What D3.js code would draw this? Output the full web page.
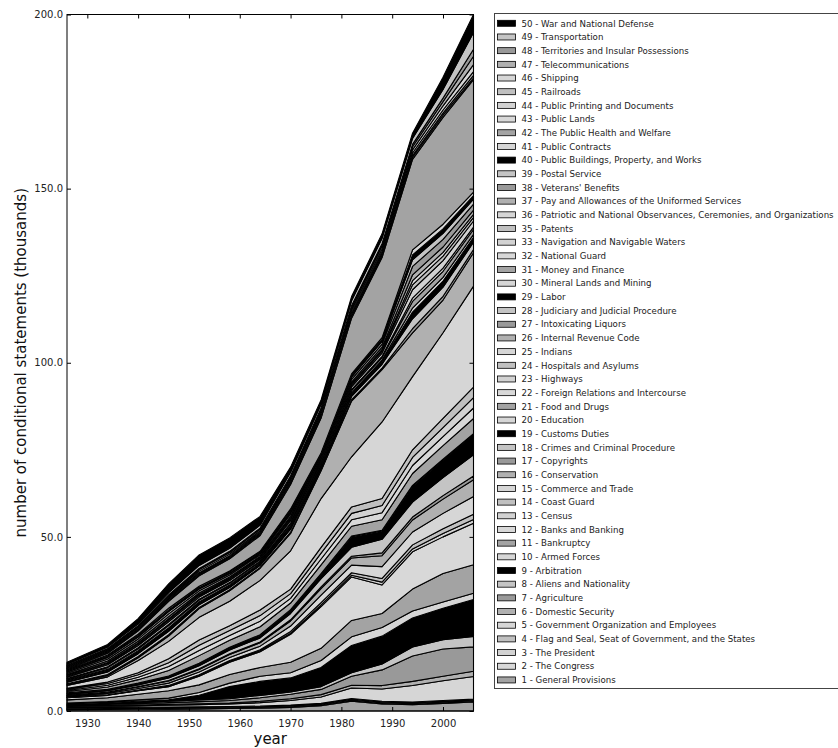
<!DOCTYPE html>
<html><head><meta charset="utf-8">
<script src="https://cdn.jsdelivr.net/npm/d3@7"></script>
<style>body{margin:0;background:#fff} text{font-family:"DejaVu Sans",sans-serif}</style>
</head><body><svg id="c" width="838" height="748"></svg>
<script>
const years = [1926,1934,1940,1946,1952,1958,1964,1970,1976,1982,1988,1994,2000,2006];
const titles = ["1 - General Provisions","2 - The Congress","3 - The President","4 - Flag and Seal, Seat of Government, and the States","5 - Government Organization and Employees","6 - Domestic Security","7 - Agriculture","8 - Aliens and Nationality","9 - Arbitration","10 - Armed Forces","11 - Bankruptcy","12 - Banks and Banking","13 - Census","14 - Coast Guard","15 - Commerce and Trade","16 - Conservation","17 - Copyrights","18 - Crimes and Criminal Procedure","19 - Customs Duties","20 - Education","21 - Food and Drugs","22 - Foreign Relations and Intercourse","23 - Highways","24 - Hospitals and Asylums","25 - Indians","26 - Internal Revenue Code","27 - Intoxicating Liquors","28 - Judiciary and Judicial Procedure","29 - Labor","30 - Mineral Lands and Mining","31 - Money and Finance","32 - National Guard","33 - Navigation and Navigable Waters","35 - Patents","36 - Patriotic and National Observances, Ceremonies, and Organizations","37 - Pay and Allowances of the Uniformed Services","38 - Veterans' Benefits","39 - Postal Service","40 - Public Buildings, Property, and Works","41 - Public Contracts","42 - The Public Health and Welfare","43 - Public Lands","44 - Public Printing and Documents","45 - Railroads","46 - Shipping","47 - Telecommunications","48 - Territories and Insular Possessions","49 - Transportation","50 - War and National Defense"];
const v1 = [0.4,0.45,0.5,0.55,0.6,0.7,0.8,1.0,1.5,2.8,2.0,1.8,2.2,2.6];
const v2 = [0.2,0.2,0.2,0.2,0.2,0.2,0.2,0.2,0.2,0.3,0.3,0.3,0.3,0.3];
const v3 = [0.2,0.2,0.2,0.2,0.2,0.2,0.2,0.2,0.2,0.2,0.2,0.2,0.2,0.2];
const v4 = [0.2,0.2,0.2,0.2,0.2,0.2,0.2,0.3,0.3,0.3,0.3,0.3,0.3,0.3];
const v5 = [0.3,0.35,0.4,0.5,0.6,0.7,1.0,1.3,1.8,3.0,3.5,4.7,5.7,6.5];
const v6 = [0.2,0.2,0.2,0.25,0.3,0.3,0.4,0.5,0.7,0.8,1.0,1.2,1.3,1.5];
const v7 = [0.2,0.3,0.4,0.5,0.6,0.7,1.0,1.3,1.5,2.6,4.5,7.3,7.8,7.0];
const v8 = [0.1,0.2,0.3,0.4,0.5,0.5,0.7,0.7,0.8,1.0,1.7,2.6,2.7,3.0];
const v9 = [0.2,0.3,0.4,0.4,1.3,3.5,4.0,4.0,5.5,7.8,8.0,8.3,9.0,10.6];
const v10 = [0.3,0.3,0.4,0.5,0.8,1.0,1.5,1.5,2.0,2.5,2.5,2.0,1.8,1.8];
const v11 = [0.9,1.1,1.6,2.1,2.2,2.5,2.5,3.0,3.5,4.7,4.0,6.3,8.2,8.2];
const v12 = [0.6,0.7,1.0,1.2,2.5,3.5,4.5,8.0,12,12.5,8.2,10.7,10.5,11.9];
const v13 = [0.06,0.08,0.1,0.15,0.18,0.2,0.25,0.35,0.5,0.5,0.8,0.85,1.0,1.1];
const v14 = [0.08,0.1,0.14,0.2,0.24,0.28,0.32,0.5,0.65,0.7,1.05,1.15,1.35,1.5];
const v15 = [0.26,0.34,0.44,0.65,0.78,0.9,1.05,1.55,2.1,2.2,3.4,3.7,4.4,5.1];
const v16 = [0.24,0.31,0.41,0.6,0.72,0.85,0.95,1.45,1.9,2.05,3.15,3.45,4.1,4.8];
const v17 = [0.06,0.08,0.1,0.15,0.18,0.2,0.25,0.35,0.5,0.5,0.8,0.85,1.0,1.1];
const v18 = [0.3,0.39,0.51,0.75,0.9,1.07,1.18,1.8,2.35,2.55,3.9,4.3,5.15,6.1];
const v19 = [0.3,0.3,0.4,0.4,0.5,0.6,0.7,0.9,1.2,3.0,2.3,4.5,5.0,5.7];
const v20 = [0.1,0.1,0.1,0.15,0.2,0.2,0.2,0.2,0.25,0.25,0.3,0.3,0.3,0.3];
const v21 = [0.4,0.7,1.0,1.6,2.2,2.0,2.3,1.9,2.5,2.8,3.0,3.4,3.9,4.4];
const v22 = [0.3,0.5,0.7,1.1,1.5,1.4,1.6,1.35,1.7,1.85,2.05,2.3,2.6,3.0];
const v23 = [0.3,0.5,0.7,1.1,1.5,1.4,1.6,1.35,1.7,1.85,2.05,2.3,2.6,3.0];
const v24 = [0.3,0.4,0.6,1.15,1.5,1.4,1.6,1.3,1.65,1.85,2.0,2.2,2.6,3.0];
const v25 = [0.8,1.5,3.5,5,6.5,7,8.5,11,14,14.4,22,21,24.6,29];
const v26 = [0.3,0.4,0.8,1.5,2.5,3,3.5,5,8,16,15,12.6,9.4,9.6];
const v27 = [0.2,0.3,0.34,0.4,0.32,0.3,0.24,0.35,0.25,0.38,0.47,1.17,1.09,0.9];
const v28 = [0.5,0.7,0.82,0.95,0.79,0.67,0.58,0.86,0.63,0.93,1.09,2.86,2.62,2.1];
const v29 = [0.35,0.45,0.53,0.63,0.51,0.44,0.37,0.55,0.41,0.64,0.73,1.91,1.73,1.4];
const v30 = [0.2,0.3,0.34,0.4,0.32,0.3,0.24,0.35,0.25,0.38,0.47,1.17,1.09,0.85];
const v31 = [0.3,0.5,0.53,0.63,0.51,0.44,0.41,0.55,0.41,0.64,0.73,1.91,1.73,1.4];
const v32 = [0.15,0.25,0.29,0.32,0.24,0.22,0.2,0.27,0.19,0.32,0.36,0.95,0.89,0.7];
const v33 = [0.4,0.6,0.67,0.81,0.63,0.59,0.48,0.7,0.5,0.77,0.94,2.39,2.18,1.75];
const v35 = [0.25,0.35,0.38,0.5,0.4,0.33,0.31,0.43,0.32,0.48,0.55,1.43,1.29,1.05];
const v36 = [0.2,0.3,0.34,0.4,0.32,0.3,0.24,0.35,0.25,0.38,0.47,1.17,1.09,0.85];
const v37 = [0.3,0.4,0.48,0.54,0.43,0.41,0.34,0.51,0.35,0.54,0.65,1.7,1.53,1.2];
const v38 = [0.4,0.6,0.67,0.81,0.63,0.56,0.48,0.7,0.5,0.77,0.91,2.39,2.18,1.75];
const v39 = [0.35,0.45,0.53,0.63,0.51,0.44,0.37,0.55,0.41,0.64,0.73,1.91,1.73,1.4];
const v40 = [0.25,0.35,0.43,0.5,0.4,0.37,0.31,0.43,0.32,0.48,0.55,1.43,1.29,1.05];
const v41 = [0.25,0.35,0.38,0.5,0.4,0.33,0.31,0.43,0.32,0.45,0.57,1.43,1.34,1.0];
const v42 = [0.3,0.5,1,2,3,3.5,4.5,7,10,16,23,26,30.7,32.3];
const v43 = [0.15,0.2,0.2,0.25,0.3,0.3,0.3,0.35,0.4,0.5,0.55,0.6,0.6,0.5];
const v44 = [0.12,0.15,0.15,0.2,0.25,0.25,0.25,0.3,0.3,0.4,0.45,0.5,0.6,0.7];
const v45 = [0.2,0.25,0.25,0.3,0.35,0.35,0.35,0.4,0.5,0.6,0.65,0.7,0.9,1.1];
const v46 = [0.25,0.3,0.3,0.4,0.45,0.45,0.45,0.5,0.6,0.75,0.8,0.9,1.2,2.0];
const v47 = [0.2,0.25,0.3,0.35,0.45,0.45,0.45,0.55,0.6,0.75,0.85,0.9,1.2,2.4];
const v48 = [0.18,0.2,0.25,0.3,0.35,0.35,0.35,0.4,0.5,0.6,0.65,0.7,1.0,2.0];
const v49 = [0.4,0.45,0.55,0.7,0.85,0.85,0.85,1.0,1.1,1.4,1.55,1.7,2.5,4.8];
const v50 = [0.5,0.7,1.5,2.5,3,3,2.5,1.5,1.2,1.2,1.3,1.5,3.5,5.2];
const yTicks = [0,50,100,150,200];
const xTicks = [1930,1940,1950,1960,1970,1980,1990,2000];
const greys = ["#a3a3a3","#d8d8d8","#d2d2d2","#c0c0c0","#d6d6d6","#b0b0b0","#999999","#c4c4c4","#000000","#d6d6d6"];

const series = [v1,v2,v3,v4,v5,v6,v7,v8,v9,v10,v11,v12,v13,v14,v15,v16,v17,v18,v19,v20,v21,v22,v23,v24,v25,v26,v27,v28,v29,v30,v31,v32,v33,v35,v36,v37,v38,v39,v40,v41,v42,v43,v44,v45,v46,v47,v48,v49,v50];
const keys = series.map((s,i)=>i);
const rows = years.map((yr,j)=>{const o={year:yr}; series.forEach((s,i)=>o[i]=s[j]); return o;});

const svg = d3.select("#c");
const L=67, R=473.5, T=14.5, B=711;
const x = d3.scaleLinear().domain([1926,2006]).range([L,R]);
const y = d3.scaleLinear().domain([0,200]).range([B,T]);

const stacked = d3.stack().keys(keys)(rows);
const area = d3.area().x(d=>x(d.data.year)).y0(d=>y(d[0])).y1(d=>y(d[1]));
const g = svg.append("g");
g.selectAll("path").data(stacked).join("path")
  .attr("d", area)
  .attr("fill", d=>greys[d.key%10])
  .attr("stroke","#000").attr("stroke-width",1.1).attr("stroke-linejoin","round");

svg.append("rect").attr("x",L).attr("y",T).attr("width",R-L).attr("height",B-T)
  .attr("fill","none").attr("stroke","#000").attr("stroke-width",1);

function styleAxis(sel){ sel.select(".domain").remove(); sel.selectAll("line").attr("stroke","#000");
  sel.selectAll("text").attr("font-family","DejaVu Sans").attr("font-size","10px").attr("fill","#222"); }
svg.append("g").attr("transform",`translate(${L},0)`)
  .call(d3.axisLeft(y).tickValues(yTicks).tickFormat(d3.format(".1f")).tickSizeInner(-4).tickSizeOuter(0).tickPadding(4)).call(styleAxis);
svg.append("g").attr("transform",`translate(${R},0)`)
  .call(d3.axisRight(y).tickValues(yTicks).tickFormat("").tickSizeInner(-4).tickSizeOuter(0)).call(styleAxis);
svg.append("g").attr("transform",`translate(0,${B})`)
  .call(d3.axisBottom(x).tickValues(xTicks).tickFormat(d3.format("d")).tickSizeInner(-4).tickSizeOuter(0).tickPadding(9)).call(styleAxis);
svg.append("g").attr("transform",`translate(0,${T})`)
  .call(d3.axisTop(x).tickValues(xTicks).tickFormat("").tickSizeInner(-4).tickSizeOuter(0)).call(styleAxis);

svg.append("text").attr("x",(L+R)/2).attr("y",744).attr("text-anchor","middle")
  .attr("font-size","15px").attr("fill","#111").text("year");
svg.append("text").attr("transform",`translate(25.5,${(T+B)/2}) rotate(-90)`).attr("text-anchor","middle")
  .attr("font-size","15px").attr("fill","#111").text("number of conditional statements (thousands)");

const lg = svg.append("g");
lg.append("rect").attr("x",494.5).attr("y",13.5).attr("width",400).attr("height",675)
  .attr("fill","#fff").attr("stroke","#444").attr("stroke-width",1);
const order = keys.slice().reverse();
order.forEach((k,n)=>{
  const cy = 23.3 + n*13.68;
  lg.append("rect").attr("x",497.5).attr("y",cy-3).attr("width",18).attr("height",6)
    .attr("fill",greys[k%10]).attr("stroke","#000").attr("stroke-width",0.8);
  lg.append("text").attr("x",521.5).attr("y",cy+3.2).attr("font-size","8.65px").attr("fill","#222").text(titles[k]);
});
</script></body></html>
